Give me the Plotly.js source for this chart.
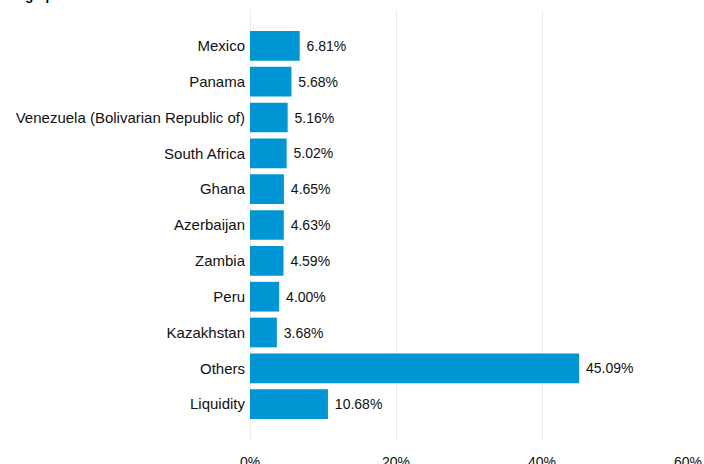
<!DOCTYPE html>
<html>
<head>
<meta charset="utf-8">
<script src="https://cdn.plot.ly/plotly-3.0.1.min.js"></script>
<style>
  html, body { margin: 0; padding: 0; background: #fff; }
  #chart { width: 704px; height: 464px; }
</style>
</head>
<body>
<div id="chart"></div>
<script>
const categories = ["Mexico", "Panama", "Venezuela (Bolivarian Republic of)", "South Africa", "Ghana", "Azerbaijan", "Zambia", "Peru", "Kazakhstan", "Others", "Liquidity"];
const values = [6.81, 5.68, 5.16, 5.02, 4.65, 4.63, 4.59, 4.00, 3.68, 45.09, 10.68];
const valueLabels = ["6.81%", "5.68%", "5.16%", "5.02%", "4.65%", "4.63%", "4.59%", "4.00%", "3.68%", "45.09%", "10.68%"];
const tickVals = [0, 20, 40, 60];
const tickText = ["0%", "20%", "40%", "60%"];
const titleText = "Geographic breakdown";

const trace = {
  type: "bar",
  orientation: "h",
  x: values,
  y: categories,
  text: valueLabels,
  textposition: "outside",
  texttemplate: " %{text}",
  cliponaxis: false,
  marker: { color: "#0096d6" },
  textfont: { family: "Liberation Sans, Arial, sans-serif", size: 14, color: "#111" },
  hoverinfo: "none"
};

const layout = {
  width: 704,
  height: 464,
  margin: { l: 250, r: 16, t: 10, b: 24 },
  paper_bgcolor: "#fff",
  plot_bgcolor: "#fff",
  bargap: 0.17,
  showlegend: false,
  font: { family: "Liberation Sans, Arial, sans-serif", size: 14, color: "#111" },
  title: {
    text: "<b>" + titleText + "</b>",
    xref: "container", yref: "container",
    x: 0, xanchor: "left",
    y: 1, yanchor: "bottom",
    font: { size: 13, color: "#000", family: "Liberation Sans, Arial, sans-serif" },
    pad: { t: 0, b: 0, l: 0, r: 0 }
  },
  xaxis: {
    range: [0, 60],
    tickvals: tickVals,
    ticktext: tickText,
    showgrid: true,
    gridcolor: "#ebebeb",
    gridwidth: 1,
    zeroline: true,
    zerolinecolor: "#ebebeb",
    showline: false,
    ticks: "outside",
    ticklen: 9,
    tickcolor: "rgba(0,0,0,0)",
    tickfont: { size: 14, color: "#111" },
    fixedrange: true
  },
  yaxis: {
    type: "category",
    categoryorder: "array",
    categoryarray: categories,
    range: [11, -1],
    showgrid: false,
    zeroline: false,
    showline: false,
    ticks: "",
    ticklabelstandoff: 4,
    tickfont: { size: 15, color: "#111" },
    fixedrange: true
  }
};

Plotly.newPlot("chart", [trace], layout, { displayModeBar: false, staticPlot: true });
</script>
</body>
</html>
